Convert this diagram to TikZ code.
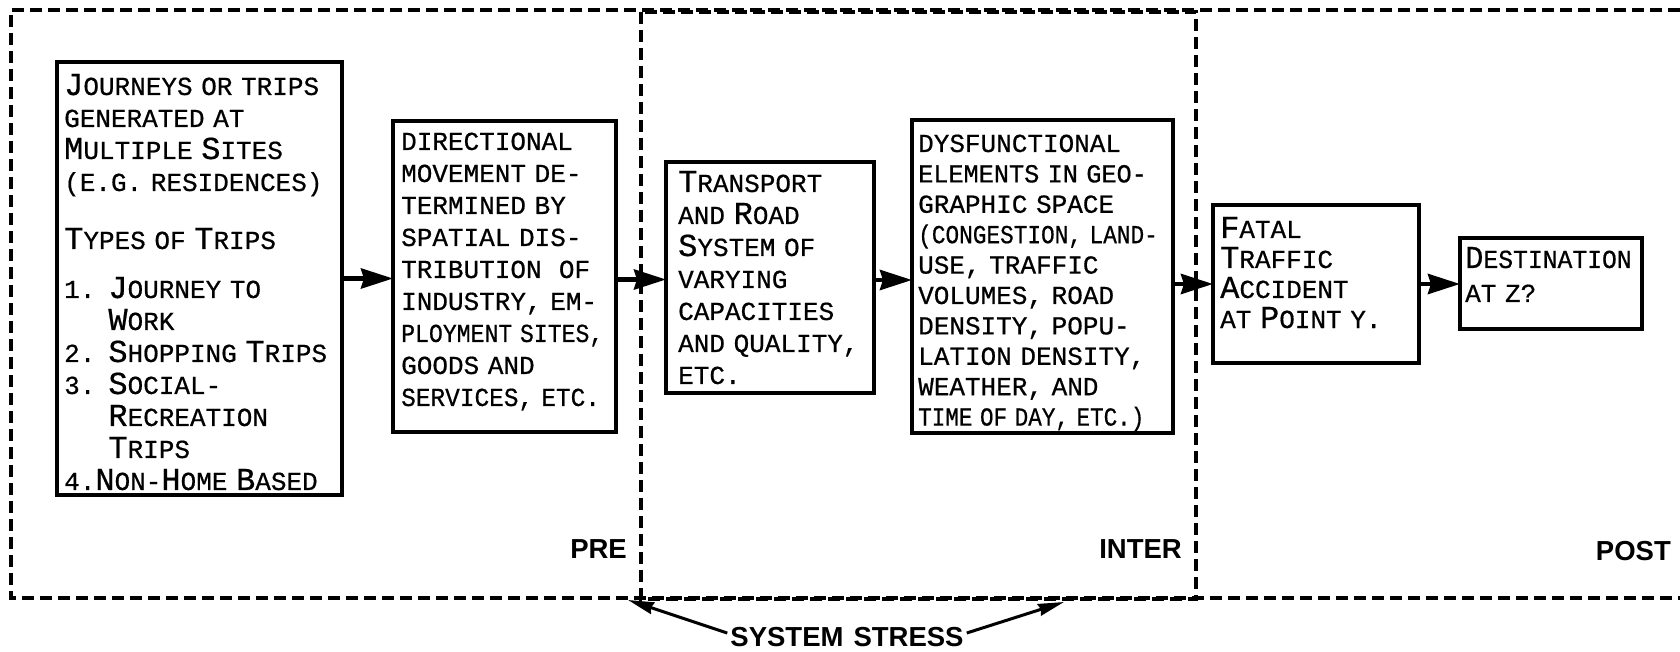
\documentclass[tikz,border=0pt]{standalone}
\usepackage{fontspec}
\usepackage{graphicx}
\usetikzlibrary{arrows.meta,calc}
\newfontfamily\lett[FakeBold=0.6]{Liberation Mono}
\newfontfamily\hv{Liberation Sans}
\newcommand\Kp[1]{{\fontsize{32pt}{32pt}\selectfont #1}}
\newcommand\Sq[2]{\scalebox{#1}[1]{#2}}
\begin{document}
\begin{tikzpicture}[x=1pt,y=-1pt,
  box/.style={draw, line width=4.5pt, inner sep=0pt, outer sep=0pt, anchor=north west},
  txt/.style={anchor=base west, inner sep=0pt, text width=400pt, align=left,
    font=\lett\fontsize{26pt}{32pt}\selectfont},
  arr/.style={line width=4.5pt, -{Stealth[length=32pt,width=20pt,inset=3pt]}},
  thinarr/.style={line width=3pt, -{Stealth[length=26pt,width=12pt,inset=2pt]}},
  dashline/.style={line width=3.5pt, dash pattern=on 12pt off 6pt},
  lab/.style={inner sep=0pt, font=\hv\bfseries\fontsize{27.5pt}{30pt}\selectfont}]
\useasboundingbox (0,0) rectangle (1680,652);

% phase frames
\draw[dashline] (1680,10) -- (11,10) -- (11,598) -- (1680,598);
\draw[dashline] (641,12) rectangle (1196,599);

% boxes
\node[box, minimum width=285pt, minimum height=433pt] (b1) at (57,62) {};
\node[box, minimum width=223pt, minimum height=311pt] (b2) at (393,121) {};
\node[box, minimum width=208pt, minimum height=231pt] (b3) at (666,162) {};
\node[box, minimum width=261pt, minimum height=313pt] (b4) at (912,120) {};
\node[box, minimum width=206pt, minimum height=158pt] (b5) at (1213,205) {};
\node[box, minimum width=182pt, minimum height=91pt] (b6) at (1460,238) {};

% box texts
\node[txt] (t1) at (64,95) {\Kp{J}OURNEYS OR TRIPS\\
GENERATED AT\\
\Kp{M}ULTIPLE \Kp{S}ITES\\
(E.G. RESIDENCES)\\[26pt]
\Kp{T}YPES OF \Kp{T}RIPS\\[17pt]
1. \Kp{J}OURNEY TO\\
\phantom{1. }\Kp{W}ORK\\
2. \Kp{S}HOPPING \Kp{T}RIPS\\
3. \Kp{S}OCIAL-\\
\phantom{3. }\Kp{R}ECREATION\\
\phantom{3. }\Kp{T}RIPS\\
4.\Kp{N}ON-\Kp{H}OME \Kp{B}ASED};

\node[txt] (t2) at (401,150) {DIRECTIONAL\\
MOVEMENT DE-\\
TERMINED BY\\
SPATIAL DIS-\\
TRIBUTION\ \ OF\\
INDUSTRY, EM-\\
\Sq{0.89}{PLOYMENT SITES,}\\
GOODS AND\\
\Sq{0.94}{SERVICES, ETC.}};

\node[txt] (t3) at (678,192) {\Kp{T}RANSPORT\\
AND \Kp{R}OAD\\
\Kp{S}YSTEM OF\\
VARYING\\
CAPACITIES\\
AND QUALITY,\\
ETC.};

\node[txt, font=\lett\fontsize{26pt}{30.4pt}\selectfont] (t4) at (918,152) {DYSFUNCTIONAL\\
\Sq{0.97}{ELEMENTS IN GEO-}\\
GRAPHIC SPACE\\
\Sq{0.875}{(CONGESTION, LAND-}\\
USE, TRAFFIC\\
VOLUMES, ROAD\\
DENSITY, POPU-\\
LATION DENSITY,\\
WEATHER, AND\\
\Sq{0.87}{TIME OF DAY, ETC.)}};

\node[txt, font=\lett\fontsize{26pt}{30pt}\selectfont] (t5) at (1220,238) {\Kp{F}ATAL\\
\Kp{T}RAFFIC\\
\Kp{A}CCIDENT\\
AT \Kp{P}OINT Y.};

\node[txt, font=\lett\fontsize{26pt}{34pt}\selectfont] (t6) at (1465,268) {\Sq{0.95}{\Kp{D}ESTINATION}\\
AT Z?};

% flow arrows
\draw[arr] (b1.east) -- (b1.east -| b2.west);
\draw[arr] ([yshift=-3pt]b2.east) -- ([yshift=-3pt]b2.east -| b3.west);
\draw[arr] ([yshift=-2.5pt]b3.east) -- ([yshift=-2.5pt]b3.east -| b4.west);
\draw[arr] (b5.west -| b4.east) -- (b5.west);
\draw[arr] (b5.east) -- (b5.east -| b6.west);

% phase labels
\node[lab, anchor=east] (pre) at (627,549) {PRE};
\node[lab, anchor=east] (inter) at (1182,549) {INTER};
\node[lab, anchor=east] (post) at (1671,551) {POST};

% system stress
\node[lab] (ss) at (847,637) {SYSTEM\hspace{10pt}STRESS};
\coordinate (ssl) at (628,600);
\coordinate (ssr) at (1064,602);
\draw[thinarr] ([xshift=-3pt,yshift=4pt]ss.west) -- (ssl);
\draw[thinarr] ([xshift=3pt,yshift=4pt]ss.east) -- (ssr);
\end{tikzpicture}
\end{document}
